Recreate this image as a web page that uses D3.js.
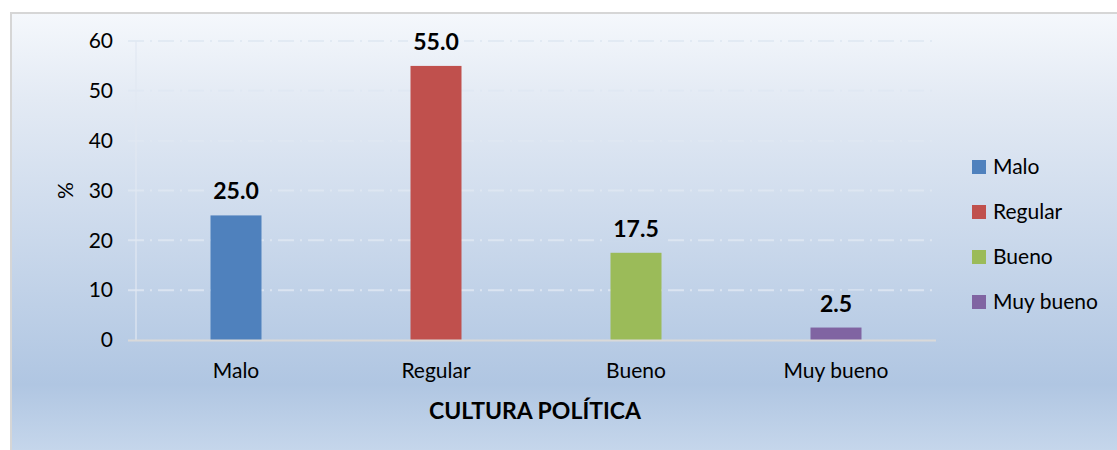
<!DOCTYPE html>
<html>
<head>
<meta charset="utf-8">
<script src="https://cdn.jsdelivr.net/npm/d3@7"></script>
<style>
  body { margin: 0; background: #fff; }
  text { font-family: Lato, "Open Sans", sans-serif; fill: #000; }
</style>
</head>
<body>
<svg id="chart" width="1117" height="450"></svg>
<script>
var categories = ["Malo", "Regular", "Bueno", "Muy bueno"];
var values = [25.0, 55.0, 17.5, 2.5];
var colors = ["#4f81bd", "#c0504d", "#9bbb59", "#8064a2"];
var yTicks = [0, 10, 20, 30, 40, 50, 60];
var xTitle = "CULTURA POLÍTICA";
var yTitle = "%";

var svg = d3.select("#chart");
var margin = {top: 41, left: 136, right: 936, bottom: 340};

// background gradient, userSpace so label boxes can reuse it
var defs = svg.append("defs");
var grad = defs.append("linearGradient")
    .attr("id", "bg")
    .attr("gradientUnits", "userSpaceOnUse")
    .attr("x1", 0).attr("y1", 12).attr("x2", 0).attr("y2", 450);
grad.append("stop").attr("offset", "0").attr("stop-color", "#f5f8fc");
grad.append("stop").attr("offset", "0.2").attr("stop-color", "#e3eaf4");
grad.append("stop").attr("offset", "0.85").attr("stop-color", "#b0c6e2");
grad.append("stop").attr("offset", "1").attr("stop-color", "#c5d6eb");

svg.append("rect")
    .attr("x", 11).attr("y", 13)
    .attr("width", 1120).attr("height", 450)
    .attr("fill", "url(#bg)")
    .attr("stroke", "#d6d6d6")
    .attr("stroke-width", 2);

var x = d3.scaleBand()
    .domain(categories)
    .range([margin.left, margin.right])
    .paddingInner(0.745)
    .paddingOuter(0.3725);

var y = d3.scaleLinear()
    .domain([0, 60])
    .range([margin.bottom, margin.top]);

// gridlines
svg.append("g")
    .selectAll("line")
    .data(yTicks.filter(function(d) { return d > 0; }))
    .enter().append("line")
    .attr("x1", margin.left - 8).attr("x2", margin.right - 1)
    .attr("y1", function(d) { return y(d); })
    .attr("y2", function(d) { return y(d); })
    .attr("stroke", "#dfe7f2")
    .attr("stroke-opacity", 0.85)
    .attr("stroke-width", 2)
    .attr("stroke-dasharray", "16,6,2,6");

// y axis line
svg.append("line")
    .attr("x1", margin.left).attr("x2", margin.left)
    .attr("y1", margin.top).attr("y2", margin.bottom)
    .attr("stroke", "#e2e9f3")
    .attr("stroke-opacity", 0.8)
    .attr("stroke-width", 1.5);

var yAxis = d3.axisLeft(y).tickValues(yTicks).tickSize(0).tickPadding(23);
svg.append("g")
    .attr("transform", "translate(" + margin.left + ",0)")
    .call(yAxis)
    .call(function(g) { g.select(".domain").remove(); })
    .selectAll("text")
    .style("font-size", "21px")
    .attr("fill", "#000");

// bars
svg.append("g")
    .selectAll("rect")
    .data(values)
    .enter().append("rect")
    .attr("x", function(d, i) { return x(categories[i]); })
    .attr("y", function(d) { return y(d); })
    .attr("width", x.bandwidth())
    .attr("height", function(d) { return y(0) - y(d); })
    .attr("fill", function(d, i) { return colors[i]; });

// x axis line
svg.append("line")
    .attr("x1", margin.left - 8).attr("x2", margin.right)
    .attr("y1", margin.bottom + 0.5).attr("y2", margin.bottom + 0.5)
    .attr("stroke", "#d9d9d9")
    .attr("stroke-width", 2);

var xAxis = d3.axisBottom(x).tickSize(0).tickPadding(23);
svg.append("g")
    .attr("transform", "translate(0," + margin.bottom + ")")
    .call(xAxis)
    .call(function(g) { g.select(".domain").remove(); })
    .selectAll("text")
    .style("font-size", "21px")
    .attr("fill", "#000");

// value labels: box in page coords (same gradient) hides gridlines behind
var labelG = svg.append("g");
labelG.selectAll("rect")
    .data(values)
    .enter().append("rect")
    .attr("x", function(d, i) { return x(categories[i]) + x.bandwidth() / 2 - 28; })
    .attr("y", function(d) { return y(d) - 37; })
    .attr("width", 56).attr("height", 26)
    .attr("fill", "url(#bg)");
labelG.selectAll("text")
    .data(values)
    .enter().append("text")
    .attr("x", function(d, i) { return x(categories[i]) + x.bandwidth() / 2; })
    .attr("y", function(d) { return y(d) - 16; })
    .attr("text-anchor", "middle")
    .style("font-size", "23px")
    .style("font-weight", "bold")
    .text(function(d) { return d.toFixed(1); });

// axis titles
svg.append("text")
    .attr("x", (margin.left + margin.right) / 2 - 1)
    .attr("y", 419)
    .attr("text-anchor", "middle")
    .style("font-size", "23px")
    .style("font-weight", "bold")
    .text(xTitle);

svg.append("text")
    .attr("transform", "translate(73," + ((margin.top + margin.bottom) / 2) + ") rotate(-90)")
    .attr("text-anchor", "middle")
    .style("font-size", "21px")
    .text(yTitle);

// legend
var legend = svg.append("g")
    .selectAll("g")
    .data(categories)
    .enter().append("g")
    .attr("transform", function(d, i) { return "translate(972," + (160 + i * 45) + ")"; });
legend.append("rect")
    .attr("width", 14).attr("height", 14)
    .attr("fill", function(d, i) { return colors[i]; });
legend.append("text")
    .attr("x", 21).attr("y", 14)
    .style("font-size", "21px")
    .text(function(d) { return d; });
</script>
</body>
</html>
